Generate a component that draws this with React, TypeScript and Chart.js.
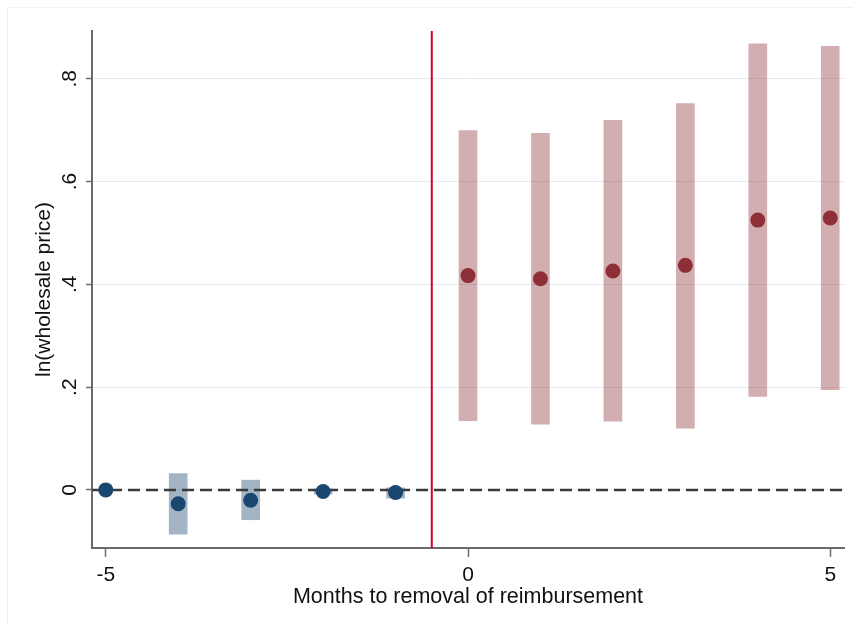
import React, { useEffect, useRef } from 'react';
import { Chart, registerables } from 'chart.js';
Chart.register(...registerables);

// ---- data ----
const preMonths = [-5, -4, -3, -2, -1];
const preEstimates = [0, -0.027, -0.02, -0.003, -0.005];
const preCiMonths = [-4, -3, -2, -1];
const preCiLower = [-0.086, -0.058, -0.008, -0.016];
const preCiUpper = [0.032, 0.019, 0.002, 0.004];

const postMonths = [0, 1, 2, 3, 4, 5];
const postEstimates = [0.417, 0.411, 0.426, 0.437, 0.525, 0.529];
const postCiLower = [0.135, 0.128, 0.134, 0.12, 0.182, 0.195];
const postCiUpper = [0.699, 0.694, 0.719, 0.752, 0.868, 0.863];

const xTicks = [-5, 0, 5];
const xTickLabels = ['-5', '0', '5'];
const yTicks = [0, 0.2, 0.4, 0.6, 0.8];
const yTickLabels = ['0', '.2', '.4', '.6', '.8'];
const xRange = [-5.19, 5.19];
const yRange = [-0.113, 0.893];
const eventMonth = -0.5;
const xTitle = 'Months to removal of reimbursement';
const yTitle = 'ln(wholesale price)';

const FONT = 'Arial, "Liberation Sans", sans-serif';
const NAVY = 'rgb(26,71,111)';
const NAVY_CI = 'rgba(26,71,111,0.4)';
const MAROON = 'rgb(142,47,56)';
const MAROON_CI = 'rgba(144,53,59,0.4)';

const textPlugin = {
  id: 'stataText',
  afterDraw(chart: any) {
    const { ctx, chartArea } = chart;
    const y = chart.scales.y;
    ctx.save();
    ctx.fillStyle = '#111';
    ctx.font = `21px ${FONT}`;
    ctx.textAlign = 'center';
    ctx.textBaseline = 'middle';
    yTicks.forEach((v, i) => {
      const py = y.getPixelForValue(v);
      ctx.save();
      ctx.translate(y.right - 22, py);
      ctx.rotate(-Math.PI / 2);
      ctx.fillText(yTickLabels[i], 0, 0);
      ctx.restore();
    });
    ctx.save();
    ctx.translate(y.left + 44, (chartArea.top + chartArea.bottom) / 2);
    ctx.rotate(-Math.PI / 2);
    ctx.fillText(yTitle, 0, 0);
    ctx.restore();
    ctx.font = `21.5px ${FONT}`;
    ctx.fillText(xTitle, (chartArea.left + chartArea.right) / 2, chartArea.bottom + 49);
    ctx.restore();
  },
};

export default function App() {
  const ref = useRef<HTMLCanvasElement | null>(null);
  useEffect(() => {
    if (!ref.current) return;
    const chart = new Chart(ref.current, {
      type: 'scatter',
      data: {
        datasets: [
          {
            type: 'bar',
            data: preCiMonths.map((m, i) => ({ x: m, y: [preCiLower[i], preCiUpper[i]] })),
            backgroundColor: NAVY_CI,
            borderWidth: 0,
            barThickness: 18,
            grouped: false,
            order: 5,
          } as any,
          {
            type: 'bar',
            data: postMonths.map((m, i) => ({ x: m, y: [postCiLower[i], postCiUpper[i]] })),
            backgroundColor: MAROON_CI,
            borderWidth: 0,
            barThickness: 18,
            grouped: false,
            order: 5,
          } as any,
          {
            type: 'line',
            data: [
              { x: xRange[0], y: 0 },
              { x: xRange[1], y: 0 },
            ],
            borderColor: '#3a3a3a',
            borderWidth: 2.5,
            borderDash: [12, 6],
            pointRadius: 0,
            order: 3,
          } as any,
          {
            type: 'line',
            data: [
              { x: eventMonth, y: yRange[0] },
              { x: eventMonth, y: yRange[1] },
            ],
            borderColor: '#d6002f',
            borderWidth: 2,
            pointRadius: 0,
            order: 2,
          } as any,
          {
            type: 'scatter',
            data: preMonths.map((m, i) => ({ x: m, y: preEstimates[i] })),
            backgroundColor: NAVY,
            borderWidth: 0,
            pointRadius: 7.5,
            order: 1,
          },
          {
            type: 'scatter',
            data: postMonths.map((m, i) => ({ x: m, y: postEstimates[i] })),
            backgroundColor: MAROON,
            borderWidth: 0,
            pointRadius: 7.5,
            order: 1,
          },
        ],
      },
      options: {
        responsive: false,
        animation: false,
        devicePixelRatio: 1,
        layout: { padding: { top: 31, right: 9, left: 0, bottom: 0 } },
        plugins: { legend: { display: false }, tooltip: { enabled: false } },
        scales: {
          x: {
            type: 'linear',
            min: xRange[0],
            max: xRange[1],
            offset: false,
            afterBuildTicks: (s: any) => {
              s.ticks = xTicks.map((v) => ({ value: v }));
            },
            afterFit: (s: any) => {
              s.height = 77;
            },
            ticks: {
              autoSkip: false,
              maxRotation: 0,
              minRotation: 0,
              padding: 6,
              color: '#111',
              font: { family: FONT, size: 21 },
              callback: (_v: any, i: number) => xTickLabels[i],
            },
            grid: {
              offset: false,
              drawOnChartArea: false,
              drawTicks: true,
              tickLength: 9,
              tickColor: '#6b6b6b',
              tickWidth: 1.5,
            },
            border: { color: '#6b6b6b', width: 2 },
          },
          y: {
            type: 'linear',
            min: yRange[0],
            max: yRange[1],
            afterBuildTicks: (s: any) => {
              s.ticks = yTicks.map((v) => ({ value: v }));
            },
            afterFit: (s: any) => {
              s.width = 92;
            },
            ticks: { display: false },
            grid: {
              color: '#e3ebee',
              lineWidth: 1,
              drawTicks: true,
              tickLength: 6,
              tickColor: '#6b6b6b',
              tickWidth: 1.5,
            },
            border: { color: '#6b6b6b', width: 2 },
          },
        },
      } as any,
      plugins: [textPlugin],
    });
    return () => chart.destroy();
  }, []);

  return (
    <div style={{ position: 'fixed', left: 0, top: 0, width: 853, height: 625, background: '#fff' }}>
      <div
        style={{
          position: 'absolute',
          left: 7,
          top: 7,
          right: 0,
          bottom: 0,
          borderLeft: '1px solid #f2f2f2',
          borderTop: '1px solid #f2f2f2',
        }}
      />
      <canvas ref={ref} width={853} height={625} style={{ position: 'absolute', left: 0, top: 0 }} />
    </div>
  );
}
